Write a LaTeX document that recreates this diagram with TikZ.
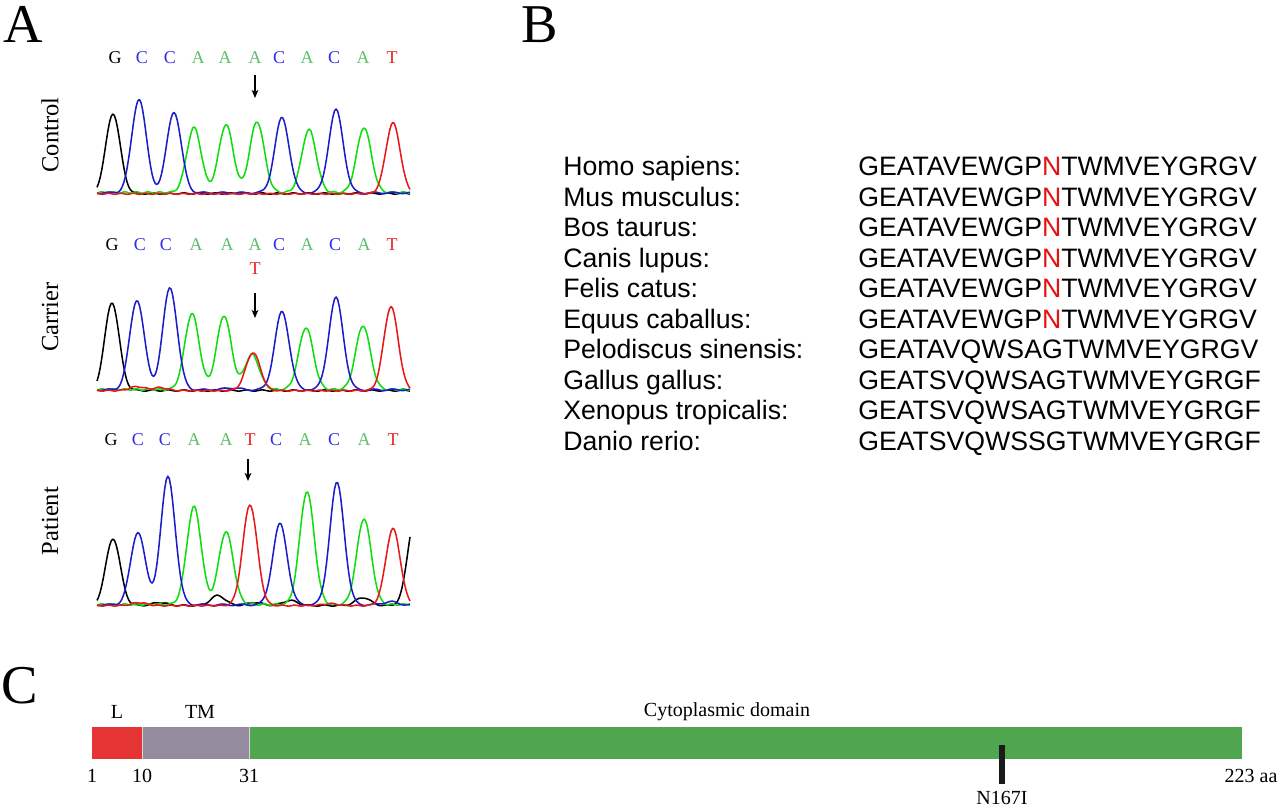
\documentclass[tikz,border=0pt]{standalone}
\usepackage{fontspec}
\setmainfont{Liberation Serif}
\newfontfamily\arialf{Liberation Sans}
\usetikzlibrary{arrows.meta}
\definecolor{tgreen}{HTML}{10DD10}
\definecolor{tblue}{HTML}{1C1CC8}
\definecolor{tred}{HTML}{E81818}
\definecolor{lgreen}{HTML}{5CBF6A}
\definecolor{lblue}{HTML}{2E2EE6}
\definecolor{lred}{HTML}{E82020}
\definecolor{cred}{HTML}{E43434}
\definecolor{cgrey}{HTML}{948C9E}
\definecolor{cgreen}{HTML}{4FA64F}
\definecolor{nred}{HTML}{E81010}
\tikzset{
  trc/.style={line width=1.15pt, line join=round},
  panel/.style={font=\fontsize{41}{41}\selectfont, inner sep=0pt, anchor=base},
  sample/.style={font=\fontsize{18.4}{18.4}\selectfont, rotate=90, inner sep=0pt},
  basel/.style={font=\fontsize{13.5}{13.5}\selectfont, inner sep=0pt},
  arr/.style={line width=1pt, -{Stealth[length=6pt,width=5pt,inset=1.5pt]}},
  species/.style={font=\arialf\fontsize{20}{20}\selectfont, anchor=base west, inner sep=0pt},
  seq/.style={font=\arialf\fontsize{20}{20}\selectfont, anchor=base west, inner sep=0pt},
  dom/.style={font=\fontsize{15}{15}\selectfont, inner sep=0pt},
}
\begin{document}
\begin{tikzpicture}[x=0.75pt,y=-0.75pt,
  declare function={pk(\xa,\ma,\ha)=\ha*exp(-min(((\xa-\ma)/7.2)^2/2,12));}]
\useasboundingbox[fill=white] (0,0) rectangle (1280,807);

% ---------- panel labels ----------
\node[panel] (pA) at (23,42) {A};
\node[panel] (pB) at (540,42) {B};
\node[panel] (pC) at (20,703) {C};

% ---------- sample labels ----------
\node[sample] (sctl) at (50,135) {Control};
\node[sample] (scar) at (50,317) {Carrier};
\node[sample] (spat) at (50,521) {Patient};

% ---------- Control ----------
\node[basel] (c1) at (115,58) {G};
\node[basel,text=lblue] (c2) at (142,58) {C};
\node[basel,text=lblue] (c3) at (170,58) {C};
\node[basel,text=lgreen] (c4) at (198,58) {A};
\node[basel,text=lgreen] (c5) at (225,58) {A};
\node[basel,text=lgreen] (c6) at (255,58) {A};
\node[basel,text=lblue] (c7) at (279,58) {C};
\node[basel,text=lgreen] (c8) at (307,58) {A};
\node[basel,text=lblue] (c9) at (334,58) {C};
\node[basel,text=lgreen] (c10) at (363,58) {A};
\node[basel,text=lred] (c11) at (392,58) {T};
\coordinate (ca1) at (255,75);
\coordinate (ca2) at (255,98);
\draw[arr] (ca1) -- (ca2);

\draw[trc,black] plot[domain=97:410,samples=200] (\x,{193.5+0.6*sin(23*\x) - pk(\x,113,80)});
\draw[trc,tgreen] plot[domain=97:410,samples=200] (\x,{192.5+0.7*sin(31*\x) - pk(\x,194,65)-pk(\x,226,68)-pk(\x,257,71)-pk(\x,309,63)-pk(\x,364,65)});
\draw[trc,tblue] plot[domain=97:410,samples=200] (\x,{192.8+0.8*sin(19*\x) - pk(\x,139,94)-pk(\x,174,81)-pk(\x,282,75)-pk(\x,336,83)});
\draw[trc,tred] plot[domain=97:410,samples=200] (\x,{193.8+0.5*sin(29*\x) - pk(\x,393,71)});

% ---------- Carrier ----------
\node[basel] (r1) at (112,245) {G};
\node[basel,text=lblue] (r2) at (140,245) {C};
\node[basel,text=lblue] (r3) at (166,245) {C};
\node[basel,text=lgreen] (r4) at (196,245) {A};
\node[basel,text=lgreen] (r5) at (227,245) {A};
\node[basel,text=lgreen] (r6) at (255,245) {A};
\node[basel,text=lblue] (r7) at (279,245) {C};
\node[basel,text=lgreen] (r8) at (307,245) {A};
\node[basel,text=lblue] (r9) at (335,245) {C};
\node[basel,text=lgreen] (r10) at (364,245) {A};
\node[basel,text=lred] (r11) at (392,245) {T};
\node[basel,text=lred] (r12) at (255,269) {T};
\coordinate (ra1) at (255,293);
\coordinate (ra2) at (255,318);
\draw[arr] (ra1) -- (ra2);

\draw[trc,black] plot[domain=97:410,samples=200] (\x,{390.5+0.6*sin(23*\x) - pk(\x,112,88)});
\draw[trc,tgreen] plot[domain=97:410,samples=200] (\x,{389.5+0.7*sin(31*\x) - pk(\x,192,76)-pk(\x,224,74)-pk(\x,252,35)-pk(\x,306,62)-pk(\x,363,64)});
\draw[trc,tblue] plot[domain=97:410,samples=200] (\x,{389.8+0.8*sin(19*\x) - pk(\x,137,90)-pk(\x,170,102)-pk(\x,282,78)-pk(\x,336,92)-pk(\x,232,2)});
\draw[trc,tred] plot[domain=97:410,samples=200] (\x,{390.6+0.5*sin(29*\x) - pk(\x,137,4)-pk(\x,160,3)-pk(\x,253,38)-pk(\x,391,84)});

% ---------- Patient ----------
\node[basel] (t1) at (111,440) {G};
\node[basel,text=lblue] (t2) at (138,440) {C};
\node[basel,text=lblue] (t3) at (165,440) {C};
\node[basel,text=lgreen] (t4) at (194,440) {A};
\node[basel,text=lgreen] (t5) at (226,440) {A};
\node[basel,text=lred] (t6) at (250,440) {T};
\node[basel,text=lblue] (t7) at (276,440) {C};
\node[basel,text=lgreen] (t8) at (305,440) {A};
\node[basel,text=lblue] (t9) at (334,440) {C};
\node[basel,text=lgreen] (t10) at (364,440) {A};
\node[basel,text=lred] (t11) at (393,440) {T};
\coordinate (ta1) at (248,459);
\coordinate (ta2) at (248,481);
\draw[arr] (ta1) -- (ta2);

\draw[trc,black] plot[domain=97:410,samples=200] (\x,{605.5+0.6*sin(23*\x) - pk(\x,113,67)-pk(\x,160,3)-pk(\x,218,10)-pk(\x,255,3)-pk(\x,290,5)-pk(\x,363,8)-pk(\x,415,88)});
\draw[trc,tgreen] plot[domain=97:410,samples=200] (\x,{604.5+0.7*sin(31*\x) - pk(\x,194,98)-pk(\x,226,73)-pk(\x,307,113)-pk(\x,364,86)});
\draw[trc,tblue] plot[domain=97:410,samples=200] (\x,{604.8+0.8*sin(19*\x) - pk(\x,138,73)-pk(\x,168,128)-pk(\x,280,81)-pk(\x,337,122)-pk(\x,390,3)});
\draw[trc,tred] plot[domain=97:410,samples=200] (\x,{605.6+0.5*sin(29*\x) - pk(\x,139,3)-pk(\x,250,101)-pk(\x,393,77)-pk(\x,330,2)});

% ---------- Panel B ----------
\foreach \nm/\sp/\sq [count=\i] in {
  sp1/{Homo sapiens:}/{GEATAVEWGP{\color{nred}N}TWMVEYGRGV},
  sp2/{Mus musculus:}/{GEATAVEWGP{\color{nred}N}TWMVEYGRGV},
  sp3/{Bos taurus:}/{GEATAVEWGP{\color{nred}N}TWMVEYGRGV},
  sp4/{Canis lupus:}/{GEATAVEWGP{\color{nred}N}TWMVEYGRGV},
  sp5/{Felis catus:}/{GEATAVEWGP{\color{nred}N}TWMVEYGRGV},
  sp6/{Equus caballus:}/{GEATAVEWGP{\color{nred}N}TWMVEYGRGV},
  sp7/{Pelodiscus sinensis:}/{GEATAVQWSAGTWMVEYGRGV},
  sp8/{Gallus gallus:}/{GEATSVQWSAGTWMVEYGRGF},
  sp9/{Xenopus tropicalis:}/{GEATSVQWSAGTWMVEYGRGF},
  sp10/{Danio rerio:}/{GEATSVQWSSGTWMVEYGRGF}} {
  \node[species] (\nm) at (563,{175.5+30.55*(\i-1)}) {\sp};
  \node[seq] (\nm s) at (858,{175.5+30.55*(\i-1)}) {\sq};
}

% ---------- Panel C ----------
\fill[cred] (92,727) rectangle (142,759);
\fill[cgrey] (142,727) rectangle (249,759);
\fill[cgreen] (249,727) rectangle (1242,759);
\draw[white!85!black, line width=0.6pt] (142,727) -- (142,759) (249,727) -- (249,759);
\node[dom] (dL) at (117,712) {L};
\node[dom] (dTM) at (200,712) {TM};
\node[dom] (dCy) at (727,712) {Cytoplasmic domain};
\node[dom] (n1) at (92,776) {1};
\node[dom] (n10) at (142,776) {10};
\node[dom] (n31) at (249,776) {31};
\node[dom] (n223) at (1251,776) {223 aa};
\coordinate (mut1) at (1002,745);
\coordinate (mut2) at (1002,784);
\draw[line width=3.9pt, black!90] (mut1) -- (mut2);
\node[dom, anchor=base] (nmut) at (1002,804.5) {N167I};
\end{tikzpicture}
\end{document}
